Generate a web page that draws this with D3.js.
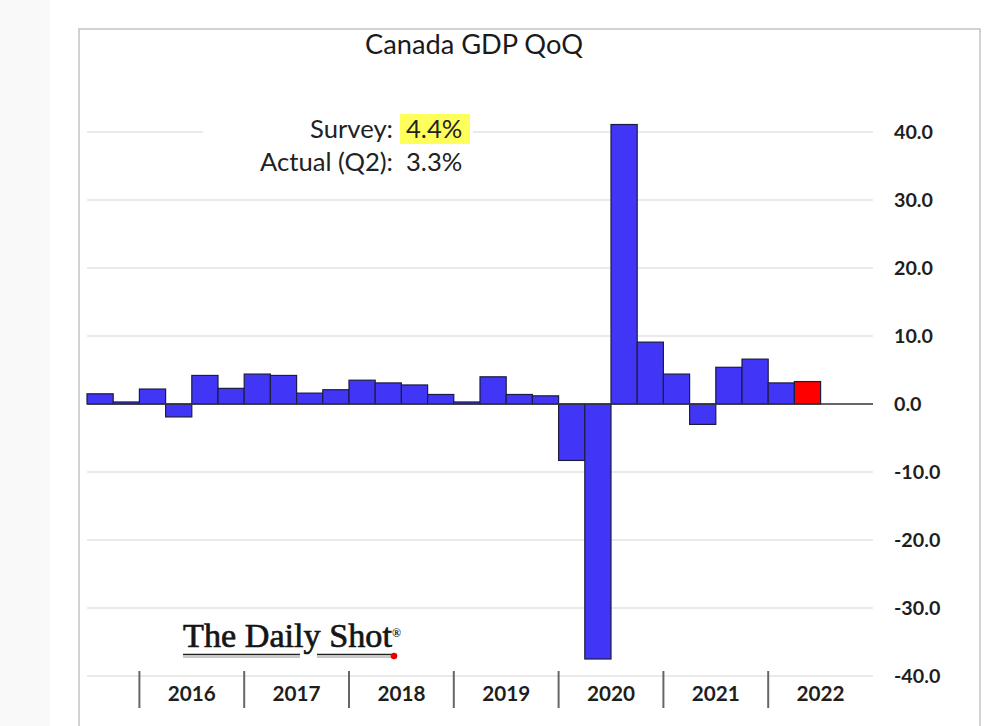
<!DOCTYPE html>
<html>
<head>
<meta charset="utf-8">
<script src="https://cdn.jsdelivr.net/npm/d3@7"></script>
<style>
  html, body { margin: 0; padding: 0; background: #ffffff; }
  svg { display: block; }
</style>
</head>
<body>
<svg id="chart" width="1005" height="726"></svg>
<script>
// ---- data ----
const quarters = [
  "2015Q3","2015Q4",
  "2016Q1","2016Q2","2016Q3","2016Q4",
  "2017Q1","2017Q2","2017Q3","2017Q4",
  "2018Q1","2018Q2","2018Q3","2018Q4",
  "2019Q1","2019Q2","2019Q3","2019Q4",
  "2020Q1","2020Q2","2020Q3","2020Q4",
  "2021Q1","2021Q2","2021Q3","2021Q4",
  "2022Q1","2022Q2","2022Q3","2022Q4"
];
const gdpQoQ = [
  1.5, 0.3,
  2.2, -1.9, 4.2, 2.3,
  4.4, 4.2, 1.6, 2.1,
  3.5, 3.1, 2.8, 1.4,
  0.3, 4.0, 1.4, 1.2,
  -8.3, -37.5, 41.1, 9.1,
  4.4, -3.0, 5.4, 6.6,
  3.1, 3.3
];
const highlightQuarter = "2022Q2";
const yearLabels = ["2016","2017","2018","2019","2020","2021","2022"];
const yTickValues = [-40,-30,-20,-10,0,10,20,30,40];
const titleText = "Canada GDP QoQ";
const annotationLabels = ["Survey:", "Actual (Q2):"];
const annotationValues = ["4.4%", "3.3%"];
const logoText = "The Daily Shot";

// ---- layout ----
const svg = d3.select("#chart");
const plotLeft = 87, plotRight = 873;
const yTop = 132, yBottom = 676;
const sansFont = "Lato, 'Open Sans', sans-serif";

function fitWidth(sel, target) {
  const w = sel.node().getComputedTextLength();
  const fs = parseFloat(sel.attr("font-size"));
  const nfs = fs * target / w;
  sel.attr("font-size", nfs);
  return nfs;
}

// page background strip + chart frame
svg.append("rect").attr("x", 0).attr("y", 0).attr("width", 50).attr("height", 726).attr("fill", "#f9f9f9");
svg.append("rect").attr("x", 79).attr("y", 29).attr("width", 901).attr("height", 760)
  .attr("fill", "#ffffff").attr("stroke", "#c4c4c4").attr("stroke-width", 1.5);

const x = d3.scaleBand().domain(quarters).range([plotLeft, plotRight]).padding(0);
const y = d3.scaleLinear().domain([-40, 40]).range([yBottom, yTop]);

// gridlines
svg.append("g").selectAll("line").data(yTickValues.filter(d => d !== 0)).join("line")
  .attr("x1", plotLeft).attr("x2", plotRight)
  .attr("y1", d => y(d)).attr("y2", d => y(d))
  .attr("stroke", "#e3e3e3").attr("stroke-width", 1.5);

// annotation box (covers gridline)
const ann = svg.append("g");
ann.append("rect").attr("x", 203).attr("y", 112).attr("width", 270).attr("height", 70).attr("fill", "#ffffff");
ann.append("rect").attr("x", 400).attr("y", 114).attr("width", 70).attr("height", 30).attr("fill", "#ffff5c");
const annL1 = ann.append("text").attr("x", 393).attr("y", 138).attr("text-anchor", "end")
  .attr("font-family", sansFont).attr("font-size", 25).attr("fill", "#222").text(annotationLabels[0]);
const annL2 = ann.append("text").attr("x", 393).attr("y", 171).attr("text-anchor", "end")
  .attr("font-family", sansFont).attr("font-size", 25).attr("fill", "#222").text(annotationLabels[1]);
const annFs = fitWidth(annL2, 133);
annL1.attr("font-size", annFs);
ann.selectAll("text.val").data(annotationValues).join("text").attr("class", "val")
  .attr("x", 406).attr("y", (d, i) => 138 + i * 33)
  .attr("font-family", sansFont).attr("font-size", annFs).attr("fill", "#222").text(d => d);

// bars
svg.append("g").selectAll("rect").data(gdpQoQ.map((v, i) => ({q: quarters[i], v}))).join("rect")
  .attr("x", d => x(d.q))
  .attr("width", x.bandwidth())
  .attr("y", d => y(Math.max(0, d.v)))
  .attr("height", d => Math.abs(y(d.v) - y(0)))
  .attr("fill", d => d.q === highlightQuarter ? "#ff0000" : "#4236f6")
  .attr("stroke", "#1c1c40").attr("stroke-width", 1.2);

// zero line
svg.append("line").attr("x1", plotLeft).attr("x2", plotRight)
  .attr("y1", y(0)).attr("y2", y(0)).attr("stroke", "#333").attr("stroke-width", 1.5);

// y axis labels (right side)
const fmt = d3.format(".1f");
const yAxis = svg.append("g").attr("transform", "translate(894,0)")
  .call(d3.axisRight(y).tickValues(yTickValues)
    .tickFormat(d => fmt(d).replace("\u2212", "-")).tickSize(0).tickPadding(0));
yAxis.select(".domain").remove();
yAxis.selectAll("text").attr("font-family", sansFont).attr("font-weight", "bold")
  .attr("font-size", 20).attr("fill", "#1e1e1e").attr("text-anchor", "start");
{
  const t40 = yAxis.selectAll("text").filter(d => d === 40);
  const fs = fitWidth(t40, 39);
  yAxis.selectAll("text").attr("font-size", fs);
}

// year separators + labels
const yearStarts = yearLabels.map(yr => x(yr + "Q1"));
svg.append("g").selectAll("line").data(yearStarts).join("line")
  .attr("x1", d => d).attr("x2", d => d).attr("y1", 671).attr("y2", 708)
  .attr("stroke", "#666").attr("stroke-width", 2);
const yearText = svg.append("g").selectAll("text").data(yearLabels).join("text")
  .attr("x", d => x(d + "Q1") + 2 * x.bandwidth())
  .attr("y", 701).attr("text-anchor", "middle")
  .attr("font-family", sansFont).attr("font-weight", "bold").attr("font-size", 21)
  .attr("fill", "#1e1e1e").text(d => d);
{
  const fs = fitWidth(yearText.filter((d, i) => i === 0), 48);
  yearText.attr("font-size", fs);
}

// title
const title = svg.append("text").attr("x", 474).attr("y", 54).attr("text-anchor", "middle")
  .attr("font-family", sansFont).attr("font-size", 26).attr("fill", "#1a1a1a").text(titleText);
fitWidth(title, 218);

// logo
const logo = svg.append("g");
const lt = logo.append("text").attr("x", 183).attr("y", 647)
  .attr("font-family", "'Liberation Serif', 'DejaVu Serif', serif").attr("font-size", 28)
  .attr("fill", "#151515").attr("stroke", "#151515").attr("stroke-width", 0.7).text(logoText);
fitWidth(lt, 209);
logo.append("text").attr("x", 392).attr("y", 637).attr("font-family", "'Liberation Serif', serif")
  .attr("font-size", 12).attr("font-weight", "bold").attr("fill", "#1a1a1a").text("®");
[[183, 300], [317, 391]].forEach(([a, b]) => {
  logo.append("line").attr("x1", a).attr("x2", b).attr("y1", 654.5).attr("y2", 654.5)
    .attr("stroke", "#222").attr("stroke-width", 1.4);
  logo.append("line").attr("x1", a).attr("x2", b).attr("y1", 657).attr("y2", 657)
    .attr("stroke", "#777").attr("stroke-width", 0.8);
});
logo.append("circle").attr("cx", 394).attr("cy", 656).attr("r", 3.3).attr("fill", "#ee0000");
</script>
</body>
</html>
